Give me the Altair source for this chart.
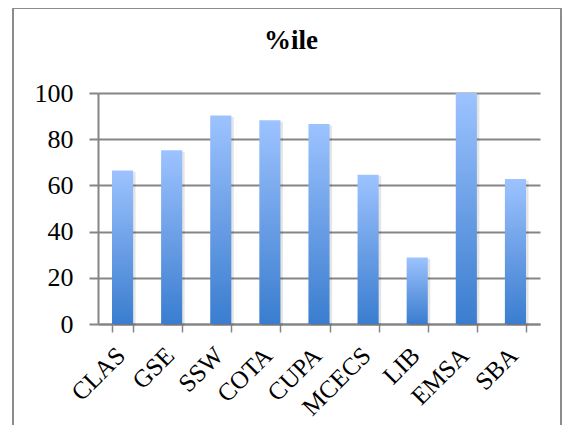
import altair as alt
import pandas as pd

categories = ["CLAS", "GSE", "SSW", "COTA", "CUPA", "MCECS", "LIB", "EMSA", "SBA"]
values = [66.5, 75.2, 90.3, 88.2, 86.6, 64.6, 28.8, 100, 62.8]
y_ticks = [0, 20, 40, 60, 80, 100]

df = pd.DataFrame({"cat": categories, "val": values})

FONT = "Liberation Serif"
GRID = "#858585"

xenc = alt.X("cat:N", sort=categories, title=None,
             scale=alt.Scale(paddingInner=0.57, paddingOuter=0.285),
             axis=alt.Axis(labelAngle=-45, labelAlign="right", labelBaseline="middle",
                           labelFont=FONT, labelFontSize=25, labelColor="#000",
                           labelPadding=19, labelOffset=-2, tickBand="extent", tickSize=8,
                           tickColor=GRID, tickWidth=1.5, domainColor=GRID,
                           domainWidth=2, grid=False))
yenc = alt.Y("val:Q", title=None,
             scale=alt.Scale(domain=[0, 100], nice=False),
             axis=alt.Axis(values=y_ticks, labelFont=FONT, labelFontSize=26,
                           labelColor="#000", labelPadding=16, tickSize=9,
                           tickColor=GRID, tickWidth=2, domainColor=GRID,
                           domainWidth=2, gridColor=GRID, gridWidth=2,
                           gridOpacity=1))

grad = alt.LinearGradient(
    gradient="linear",
    stops=[alt.GradientStop(color="#9DC3FF", offset=0),
           alt.GradientStop(color="#6B9FE6", offset=0.5),
           alt.GradientStop(color="#3A7DCF", offset=1)],
    x1=0, x2=0, y1=0, y2=1)

shadow = alt.Chart(df).mark_bar(color="#000000", opacity=0.10, xOffset=2.5, yOffset=1.5).encode(
    x=xenc, y=yenc)
bars = alt.Chart(df).mark_bar(color=grad).encode(x=xenc, y=yenc)

frame = alt.Chart(df).mark_rect(fill=None, stroke="#8c8c8c", strokeWidth=1, clip=False).encode(
    x=alt.value(-85), x2=alt.value(463), y=alt.value(-84.5), y2=alt.value(400))

chart = alt.layer(frame, shadow, bars).properties(
    width=442, height=231,
    title=alt.TitleParams("%ile", font=FONT, fontSize=27, fontWeight="bold",
                          color="#000", anchor="middle", dx=-28, dy=59, offset=12),
    autosize=alt.AutoSizeParams(type="none"),
    padding={"left": 90, "top": 85, "right": 22, "bottom": 101},
).configure_view(stroke=None)

chart.save("out.html", embed_options={"renderer": "svg", "actions": False})
